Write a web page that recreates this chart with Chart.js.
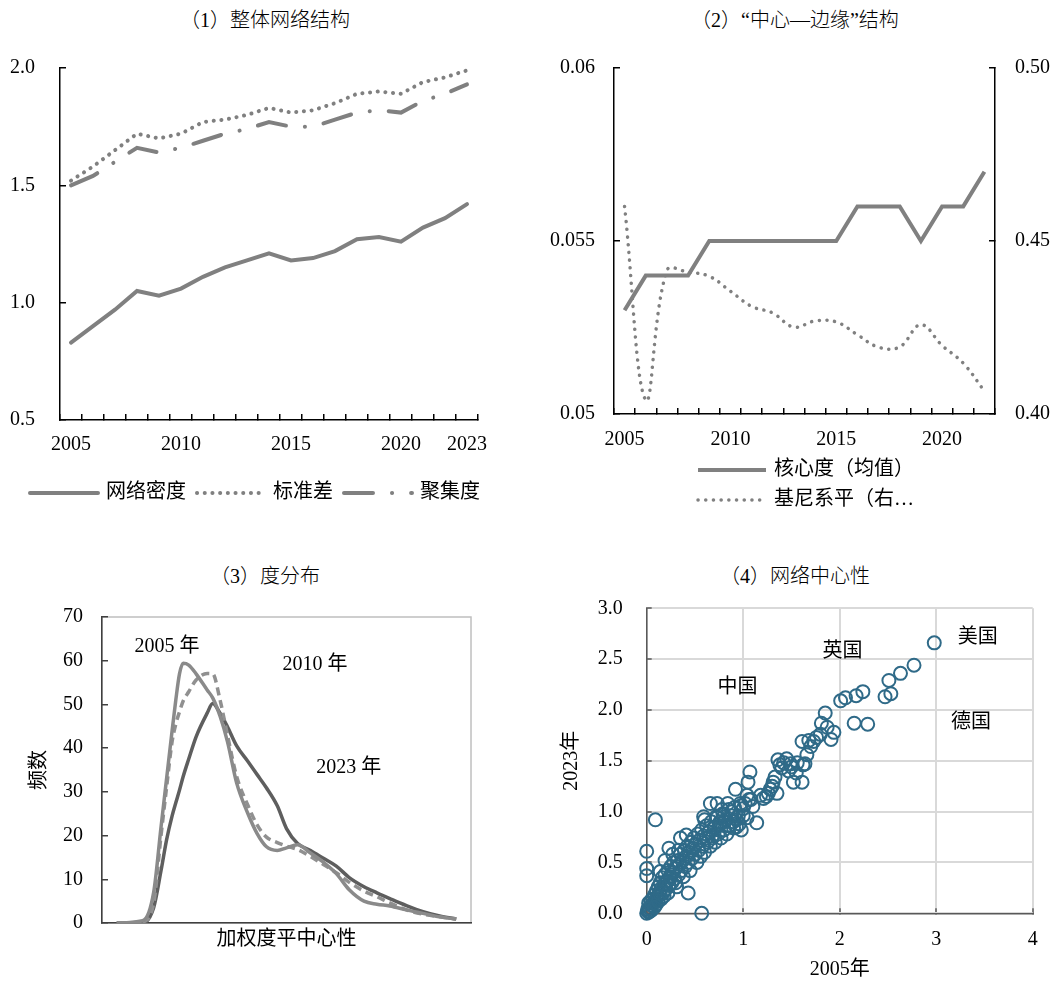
<!DOCTYPE html>
<html lang="zh">
<head>
<meta charset="utf-8">
<title>网络结构</title>
<script src="https://cdn.jsdelivr.net/npm/chart.js@4.4.1/dist/chart.umd.min.js"></script>
<style>
  body { margin: 0; background: #fff; width: 1062px; height: 984px; position: relative; overflow: hidden;
         font-family: 'Liberation Serif', 'Noto Sans CJK SC', serif; }
  .panel-title { position: absolute; width: 530px; text-align: center; font-size: 20px; line-height: 24px;
                 font-weight: 300; color: #000; }
  canvas { position: absolute; }
</style>
</head>
<body>
<div class="panel-title" style="left:0;top:8px">（1）整体网络结构</div>
<div class="panel-title" style="left:530px;top:8px">（2）“中心—边缘”结构</div>
<div class="panel-title" style="left:0;top:564px">（3）度分布</div>
<div class="panel-title" style="left:530px;top:564px">（4）网络中心性</div>

<canvas id="c1" width="530" height="480" style="left:0;top:40px"></canvas>
<canvas id="c2" width="532" height="480" style="left:530px;top:40px"></canvas>
<canvas id="c3" width="530" height="394" style="left:0;top:590px"></canvas>
<canvas id="c4" width="532" height="394" style="left:530px;top:590px"></canvas>

<script>
// ── Data: (1) overall network structure ──
const years1        = [2005, 2006, 2007, 2008, 2009, 2010, 2011, 2012, 2013, 2014, 2015, 2016, 2017, 2018, 2019, 2020, 2021, 2022, 2023];
const labeledYears1 = [2005, 2010, 2015, 2020, 2023];
const density    = [0.83, 0.90, 0.97, 1.05, 1.03, 1.06, 1.11, 1.15, 1.18, 1.21, 1.18, 1.19, 1.22, 1.27, 1.28, 1.26, 1.32, 1.36, 1.42];
const stdDev     = [1.52, 1.58, 1.65, 1.72, 1.70, 1.72, 1.77, 1.78, 1.80, 1.83, 1.81, 1.82, 1.85, 1.89, 1.90, 1.89, 1.94, 1.96, 1.99];
const clustering = [1.50, 1.54, 1.60, 1.66, 1.64, 1.66, 1.69, 1.72, 1.74, 1.77, 1.75, 1.75, 1.78, 1.81, 1.82, 1.81, 1.86, 1.89, 1.93];

// ── Data: (2) core-periphery ──
const years2        = [2005, 2006, 2007, 2008, 2009, 2010, 2011, 2012, 2013, 2014, 2015, 2016, 2017, 2018, 2019, 2020, 2021, 2022];
const labeledYears2 = [2005, 2010, 2015, 2020];
const coreness = [0.053, 0.054, 0.054, 0.054, 0.055, 0.055, 0.055, 0.055, 0.055, 0.055, 0.055, 0.056, 0.056, 0.056, 0.055, 0.056, 0.056, 0.057];
const gini     = [0.460, 0.404, 0.4415, 0.441, 0.4398, 0.4355, 0.4311, 0.4292, 0.4251, 0.4269, 0.4266, 0.4229, 0.4193, 0.4194, 0.4258, 0.4198, 0.4147, 0.4066];

// ── Data: (3) degree distribution ──
const centrality = [4, 11, 14, 16, 17.5, 19, 20, 21, 22, 23.5, 25.5, 28.5, 30, 32, 34, 36.5, 39.5, 42, 44.5, 47.5, 50, 53, 56.5, 60, 63.5, 67, 71, 74.5, 78, 82.5, 87, 91.5, 96];
const freq2005 = [0, 0.5, 7, 22, 33, 44, 51, 57, 59.4, 59, 57, 53.3, 51.5, 47.3, 41.5, 32, 25.1, 20.5, 17.5, 16.6, 17.2, 17.9, 16, 13.9, 11.3, 7.6, 5, 4.3, 3.9, 3.0, 2.2, 1.4, 0.9];
const freq2010 = [0, 0.3, 4.5, 20, 31, 41.5, 45.5, 48.3, 50.8, 52.9, 55.6, 57.1, 57, 51, 43, 33.5, 27, 22.5, 19.7, 18.4, 17.6, 16.8, 15.2, 13.4, 11.5, 9.3, 7.3, 6.0, 4.6, 3.0, 2.0, 1.4, 0.9];
const freq2023 = [0, 0, 3.5, 12, 19, 24.5, 27.5, 30.4, 33.5, 37.5, 42.6, 48, 50.2, 48, 44.9, 40.5, 37, 34, 31, 26.8, 21.6, 18.2, 16.6, 14.8, 13, 10.4, 8.3, 6.9, 5.6, 4.0, 2.6, 1.6, 0.9];
const distLabels = [
  { text: '2005 年', x: 17.6, y: 63.1 },
  { text: '2010 年', x: 57.7, y: 59.0 },
  { text: '2023 年', x: 66.9, y: 35.5 },
];

// ── Data: (4) network centrality, 2005 vs 2023 ──
const gdc2005 = [
  2.98, 2.77, 2.63, 2.51, 2.53, 2.47, 2.24, 2.17, 2.06, 2.01,
  2.15, 2.29, 1.85, 1.81, 1.87, 1.94, 1.91, 1.80, 1.73, 1.70,
  1.61, 1.66, 1.62, 1.61, 1.52, 1.55, 1.49, 1.42, 1.36, 1.40,
  1.33, 1.31, 1.35, 1.26, 1.21, 1.07, 1.05, 1.14, 1.68, 1.45,
  1.50, 1.56, 1.64, 1.47, 1.38, 1.30, 1.24, 1.28, 1.18, 1.76,
  0.92, 1.04, 0.97, 0.98, 1.00, 1.02, 0.84, 0.73, 0.66, 0.59,
  0.60, 1.10, 1.08, 0.95, 0.90, 0.88, 0.80, 0.76, 0.78, 0.70,
  0.72, 0.65, 0.68, 0.62, 0.85, 0.93,
  0.09, 0.00, 0.00, 0.00, 0.23, 0.35, 0.41, 0.43, 0.57, 0.00, 0.01, 0.02,
  0.03, 0.02, 0.05, 0.06, 0.07, 0.08, 0.09, 0.10, 0.11, 0.12,
  0.13, 0.14, 0.15, 0.15, 0.16, 0.17, 0.18, 0.19, 0.20, 0.21,
  0.22, 0.23, 0.24, 0.25, 0.26, 0.27, 0.28, 0.29, 0.30, 0.31,
  0.32, 0.33, 0.34, 0.35, 0.36, 0.37, 0.38, 0.39, 0.40, 0.41,
  0.42, 0.43, 0.44, 0.45, 0.46, 0.47, 0.48, 0.49, 0.50, 0.51,
  0.52, 0.53, 0.54, 0.55, 0.56, 0.57, 0.58, 0.59, 0.60, 0.62,
  0.63, 0.64, 0.66, 0.67, 0.68, 0.70, 0.71, 0.73, 0.74, 0.76,
  0.77, 0.79, 0.80, 0.82, 0.83, 0.85, 0.86, 0.88, 0.90, 0.91,
  0.93, 0.96, 0.98, 1.00, 1.04, 1.06,
  0.01, 0.03, 0.04, 0.05, 0.08, 0.10, 0.12, 0.14, 0.18, 0.20,
  0.22, 0.25, 0.30, 0.14, 0.19, 0.27, 0.33,
];
const gdc2023 = [
  2.66, 2.44, 2.36, 2.29, 2.16, 2.13, 2.18, 2.14, 2.12, 2.09,
  1.87, 1.86, 1.97, 1.87, 1.83, 1.78, 1.71, 1.76, 1.69, 1.64,
  1.69, 1.56, 1.46, 1.29, 1.29, 1.38, 1.47, 1.48, 1.51, 1.43,
  1.34, 1.29, 1.18, 1.18, 1.13, 1.39, 1.29, 0.89, 1.70, 1.52,
  1.44, 1.48, 1.47, 1.40, 1.46, 1.25, 1.15, 1.22, 1.16, 1.73,
  1.22, 1.16, 1.08, 0.82, 1.03, 1.08, 1.08, 1.08, 1.08, 0.95,
  0.92, 1.05, 1.12, 0.96, 0.90, 1.00, 0.95, 0.90, 1.02, 0.85,
  0.95, 0.80, 0.76, 0.74, 0.86, 0.85,
  0.92, 0.61, 0.44, 0.37, 0.64, 0.74, 0.77, 0.20, 0.00, 0.00, 0.02, 0.01,
  0.05, 0.10, 0.08, 0.14, 0.10, 0.18, 0.12, 0.22, 0.16, 0.26,
  0.20, 0.30, 0.14, 0.24, 0.35, 0.20, 0.28, 0.38, 0.24, 0.32,
  0.42, 0.28, 0.36, 0.46, 0.30, 0.40, 0.50, 0.34, 0.44, 0.26,
  0.52, 0.38, 0.48, 0.58, 0.42, 0.52, 0.36, 0.62, 0.46, 0.56,
  0.66, 0.50, 0.60, 0.42, 0.70, 0.54, 0.64, 0.74, 0.58, 0.68,
  0.50, 0.78, 0.62, 0.72, 0.56, 0.82, 0.66, 0.76, 0.60, 0.86,
  0.70, 0.80, 0.66, 0.90, 0.74, 0.84, 0.70, 0.94, 0.78, 0.88,
  0.74, 0.98, 0.82, 0.92, 0.78, 1.02, 0.86, 0.96, 0.84, 1.04,
  0.92, 0.88, 1.06, 0.96, 0.94, 1.12,
  0.04, 0.02, 0.12, 0.03, 0.06, 0.09, 0.12, 0.19, 0.17, 0.30,
  0.20, 0.35, 0.30, 0.41, 0.52, 0.58, 0.62,
];
const countryLabels = [
  { text: '美国', x: 3.43, y: 2.71 },
  { text: '英国', x: 2.03, y: 2.57 },
  { text: '中国', x: 0.94, y: 2.22 },
  { text: '德国', x: 3.36, y: 1.87 },
];

// ── Defaults ──
const FONT = "'Liberation Serif', 'Noto Sans CJK SC', serif";
const GRAY = '#808080';
Chart.defaults.font.family = FONT;
Chart.defaults.font.size   = 20;
Chart.defaults.color       = '#000';
Chart.defaults.animation   = false;
Chart.defaults.responsive  = false;
Chart.defaults.plugins.legend.display  = false;
Chart.defaults.plugins.tooltip.enabled = false;

// ── Small plugins ──
const textNotes = {
  id: 'textNotes',
  afterDatasetsDraw(chart, args, opts) {
    const { ctx, scales: { x, y } } = chart;
    ctx.save();
    ctx.font = `20px ${FONT}`;
    ctx.fillStyle = '#000';
    ctx.textAlign = 'center';
    ctx.textBaseline = 'middle';
    (opts.items || []).forEach(n => ctx.fillText(n.text, x.getPixelForValue(n.x), y.getPixelForValue(n.y)));
    ctx.restore();
  },
};

const plotFrame = {
  id: 'plotFrame',
  beforeDraw(chart, args, opts) {
    const { ctx, chartArea: a } = chart;
    ctx.save();
    ctx.strokeStyle = opts.color || '#bfbfbf';
    ctx.lineWidth = 1.5;
    ctx.strokeRect(a.left, a.top, a.right - a.left, a.bottom - a.top);
    ctx.restore();
  },
};

// legend drawn from the datasets' own line styles (row or column)
const lineLegend = {
  id: 'lineLegend',
  afterDraw(chart, args, opts) {
    const { ctx } = chart;
    let x = opts.x, y = opts.y;
    ctx.save();
    ctx.font = `20px ${FONT}`;
    ctx.textBaseline = 'middle';
    chart.data.datasets.forEach(ds => {
      ctx.strokeStyle = ds.borderColor;
      ctx.lineWidth   = ds.borderWidth;
      ctx.lineCap     = ds.borderCapStyle || 'butt';
      ctx.setLineDash(ds.borderDash || []);
      ctx.beginPath();
      ctx.moveTo(x, y);
      ctx.lineTo(x + opts.lineLength, y);
      ctx.stroke();
      ctx.setLineDash([]);
      const tx = x + opts.lineLength + opts.gap;
      ctx.fillStyle = '#000';
      ctx.fillText(ds.label, tx, y);
      if (opts.vertical) y += opts.rowHeight;
      else x = tx + ctx.measureText(ds.label).width + opts.spacing;
    });
    ctx.restore();
  },
};

// pin an axis box to a fixed size and drop its label overhang
const fixBox = size => s => {
  if (s.isHorizontal()) { s.height = size; s.paddingLeft = 0; s.paddingRight = 0; }
  else { s.width = size; s.paddingTop = 0; s.paddingBottom = 0; }
};

function yearTicks(shown) {
  return function (value) {
    const yr = Number(this.getLabelForValue(value));
    return shown.includes(yr) ? String(yr) : '';
  };
}

const inwardGrid = (len, color) => ({ drawOnChartArea: false, tickLength: -len, color, lineWidth: 1.5 });

// ── (1) 整体网络结构 ──
new Chart(document.getElementById('c1'), {
  type: 'line',
  data: {
    labels: years1.map(String),
    datasets: [
      { label: '网络密度', data: density, borderColor: GRAY, borderWidth: 4, pointRadius: 0, borderCapStyle: 'round' },
      { label: '标准差', data: stdDev, borderColor: GRAY, borderWidth: 4, pointRadius: 0,
        borderDash: [0.1, 7.6], borderCapStyle: 'round' },
      { label: '聚集度', data: clustering, borderColor: GRAY, borderWidth: 4, pointRadius: 0,
        borderDash: [29, 19, 0.1, 19], borderCapStyle: 'round' },
    ],
  },
  options: {
    layout: { padding: { left: 0, top: 28, right: 52, bottom: 47 } },
    plugins: { lineLegend: { x: 30, y: 453, lineLength: 68, gap: 8, spacing: 11 } },
    scales: {
      x: {
        offset: true,
        grid: { ...inwardGrid(6, '#000'), offset: true },
        border: { color: '#000', width: 1.5 },
        ticks: { autoSkip: false, maxRotation: 0, padding: 19, callback: yearTicks(labeledYears1) },
        afterFit: fixBox(53),
      },
      y: {
        min: 0.5, max: 2.0,
        grid: inwardGrid(6, '#000'),
        border: { color: '#000', width: 1.5 },
        ticks: { stepSize: 0.5, padding: 31, callback: v => v.toFixed(1) },
        afterFit: fixBox(60),
      },
    },
  },
  plugins: [lineLegend],
});

// ── (2) “中心—边缘”结构 ──
new Chart(document.getElementById('c2'), {
  type: 'line',
  data: {
    labels: years2.map(String),
    datasets: [
      { label: '核心度（均值）', data: coreness, yAxisID: 'y', order: 1,
        borderColor: GRAY, borderWidth: 4, pointRadius: 0 },
      { label: '基尼系平（右…', data: gini, yAxisID: 'y1', order: 0, tension: 0.4,
        borderColor: GRAY, borderWidth: 3.5, pointRadius: 0, borderDash: [0.1, 7.6], borderCapStyle: 'round' },
    ],
  },
  options: {
    layout: { padding: { left: 0, top: 28, right: 0, bottom: 56 } },
    plugins: { lineLegend: { x: 168, y: 430, lineLength: 68, gap: 8, vertical: true, rowHeight: 30 } },
    scales: {
      x: {
        offset: true,
        grid: { ...inwardGrid(6, '#000'), offset: true },
        border: { color: '#000', width: 1.5 },
        ticks: { autoSkip: false, maxRotation: 0, padding: 20, callback: yearTicks(labeledYears2) },
        afterFit: fixBox(50),
      },
      y: {
        position: 'left', min: 0.05, max: 0.06,
        grid: inwardGrid(6, '#000'),
        border: { color: '#000', width: 1.5 },
        ticks: { stepSize: 0.005, padding: 25, callback: v => String(+v.toFixed(3)) },
        afterFit: fixBox(84),
      },
      y1: {
        position: 'right', min: 0.40, max: 0.50,
        grid: inwardGrid(6, '#000'),
        border: { color: '#000', width: 1.5 },
        ticks: { stepSize: 0.05, padding: 26, callback: v => v.toFixed(2) },
        afterFit: fixBox(67),
      },
    },
  },
  plugins: [lineLegend],
});

// ── (3) 度分布 ──
const curve = ys => centrality.map((c, i) => ({ x: c, y: ys[i] }));
new Chart(document.getElementById('c3'), {
  type: 'line',
  data: {
    datasets: [
      { label: '2005年', data: curve(freq2005), borderColor: '#8a8a8a', borderWidth: 3.5, pointRadius: 0,
        cubicInterpolationMode: 'monotone' },
      { label: '2010年', data: curve(freq2010), borderColor: '#909090', borderWidth: 3.5, pointRadius: 0,
        cubicInterpolationMode: 'monotone', borderDash: [8, 5] },
      { label: '2023年', data: curve(freq2023), borderColor: '#5e5e5e', borderWidth: 3.5, pointRadius: 0,
        cubicInterpolationMode: 'monotone' },
    ],
  },
  options: {
    layout: { padding: { left: 16, top: 27, right: 59, bottom: 20 } },
    plugins: { textNotes: { items: distLabels } },
    scales: {
      x: {
        type: 'linear', min: 0, max: 100,
        grid: { display: false },
        border: { color: '#404040', width: 1.5 },
        ticks: { display: false },
        title: { display: true, text: '加权度平中心性', padding: { top: 0, bottom: 12 }, font: { size: 20 } },
        afterFit: fixBox(41),
      },
      y: {
        min: 0, max: 70,
        grid: inwardGrid(6, '#404040'),
        border: { color: '#404040', width: 1.5 },
        ticks: { stepSize: 10, padding: 25 },
        title: { display: true, text: '频数', padding: { top: 12, bottom: 0 }, font: { size: 20 } },
        afterFit: fixBox(86),
      },
    },
  },
  plugins: [plotFrame, textNotes],
});

// ── (4) 网络中心性 ──
new Chart(document.getElementById('c4'), {
  type: 'scatter',
  data: {
    datasets: [{
      label: '网络中心性',
      data: gdc2005.map((x, i) => ({ x, y: gdc2023[i] })),
      borderColor: '#2f6a88',
      backgroundColor: 'rgba(0,0,0,0)',
      borderWidth: 2,
      pointRadius: 6.5,
      clip: false,
    }],
  },
  options: {
    layout: { padding: { left: 30, top: 18.3, right: 29.3, bottom: 0 } },
    plugins: { textNotes: { items: countryLabels } },
    scales: {
      x: {
        type: 'linear', min: 0, max: 4,
        grid: { color: '#d9d9d9', lineWidth: 2, tickLength: -5, tickColor: '#595959', tickWidth: 1.5 },
        border: { color: '#595959', width: 1.5 },
        ticks: { stepSize: 1, padding: 19 },
        title: { display: true, text: '2005年', padding: { top: 0, bottom: 2 }, font: { size: 20 } },
        afterFit: fixBox(70.7),
      },
      y: {
        min: 0, max: 3,
        grid: { color: '#d9d9d9', lineWidth: 2, tickLength: -5, tickColor: '#595959', tickWidth: 1.5 },
        border: { color: '#595959', width: 1.5 },
        ticks: { stepSize: 0.5, padding: 29, callback: v => v.toFixed(1) },
        title: { display: true, text: '2023年', padding: { top: 0, bottom: 0 }, font: { size: 20 } },
        afterFit: fixBox(86.7),
      },
    },
  },
  plugins: [textNotes],
});
</script>
</body>
</html>
